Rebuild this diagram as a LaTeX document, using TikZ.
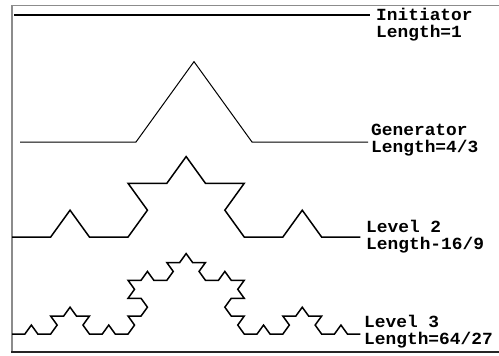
\documentclass[tikz,border=0pt]{standalone}
\usepackage{fontspec}
\setmonofont{Liberation Mono}
\usetikzlibrary{lindenmayersystems}
\definecolor{framegray}{HTML}{8C8C8C}
\pgfdeclarelindenmayersystem{kochbump}{
  \rule{F -> F+F--F+F}
}
\tikzset{
  curve/.style={line width=1.5pt, line join=miter, black},
  lbl/.style={anchor=west, align=left, inner sep=0pt, xscale=1.05, font=\ttfamily\bfseries\fontsize{17}{17}\selectfont},
  frameline/.style={line width=1.6pt, framegray}}

\begin{document}
\begin{tikzpicture}[x=1pt, y=-1pt]
  \useasboundingbox (0,0) rectangle (499,356);
  % frame
  \draw[frameline] (12,353) -- (12,5.5) -- (499,5.5);
  \draw[line width=1.6pt, black!85] (11,352) -- (499,352);

  % initiator
  \draw[curve] (14,15) -- (370,15);
  \node[lbl] (init) at (376,24.5) {Initiator\\Length=1};

  % generator
  \begin{scope}[shift={(20,142)}, yscale=0.8]
    \draw[line width=1pt, l-system={kochbump, axiom=F, order=1, step=116pt, angle=60}] lindenmayer system;
  \end{scope}
  \node[lbl] (gen) at (371,140.5) {Generator\\Length=4/3};

  % level 2
  \begin{scope}[shift={(12,237)}, yscale=0.8]
    \draw[curve, l-system={kochbump, axiom=F, order=2, step=38.7pt, angle=60}] lindenmayer system;
  \end{scope}
  \node[lbl] (lvtwo) at (366,236.5) {Level 2\\Length-16/9};

  % level 3
  \begin{scope}[shift={(12,334)}, yscale=0.8]
    \draw[curve, l-system={kochbump, axiom=F, order=3, step=12.9pt, angle=60}] lindenmayer system;
  \end{scope}
  \node[lbl] (lvthree) at (364,331.5) {Level 3\\Length=64/27};
\end{tikzpicture}
\end{document}
